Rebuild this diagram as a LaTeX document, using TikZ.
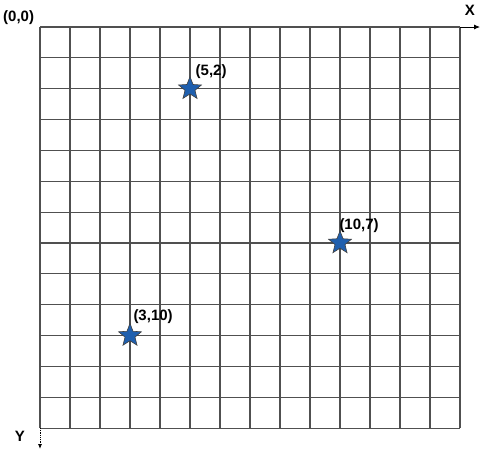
\documentclass[tikz,border=0pt]{standalone}
\usepackage{fontspec}
\setmainfont{Liberation Sans}
\usetikzlibrary{arrows.meta,shapes.geometric}
\definecolor{gridgray}{HTML}{505050}
\definecolor{starblue}{HTML}{1F5FAE}

\tikzset{
  gridline/.style={gridgray, line width=1.1pt},
  pt/.style={star, star points=5, star point ratio=2.3, minimum size=24pt, inner sep=0pt,
    fill=starblue, draw=black!75, line width=0.6pt},
  lbl/.style={anchor=base west, inner sep=0pt, font=\fontsize{15}{18}\selectfont\bfseries}
}

\begin{document}
\begin{tikzpicture}[x=1pt, y=-1pt]
        \useasboundingbox (0,0) rectangle (491,456);
        % grid
        \foreach \i in {0,...,14}
          \draw[gridline] ({40+30*\i},27) -- ({40+30*\i},428.05);
        \foreach \j in {0,...,13}
          \draw[gridline] (40,{27+30.85*\j}) -- (460,{27+30.85*\j});
        \coordinate (topright) at (460,27);
        \coordinate (botleft) at (40,428.05);
        \coordinate (xtip) at (480,27);
        \coordinate (ytip) at (40,449);
        % axes
        \draw[black, line width=0.8pt, -{Latex[length=6pt,width=5pt]}] (topright) -- (xtip);
        \draw[black, line width=0.8pt, densely dotted, -{Latex[length=5pt,width=4pt]}] (botleft) -- (ytip);
        \node[lbl] (orig) at (3,21) {(0,0)};
        \node[lbl, anchor=base] (xlab) at (470,15) {X};
        \node[lbl, anchor=base] (ylab) at (20,441.5) {Y};
        % points
        \node[pt] (p52) at (190,88.7) {};
        \node[pt] (p107) at (340,242.95) {};
        \node[pt] (p310) at (130,335.5) {};
        \node[lbl] at ([xshift=5.5pt,yshift=13.5pt]p52.center) {(5,2)};
        \node[lbl] at ([xshift=-0.7pt,yshift=13.4pt]p107.center) {(10,7)};
        \node[lbl] at ([xshift=3.3pt,yshift=15.3pt]p310.center) {(3,10)};
      \end{tikzpicture}
\end{document}
